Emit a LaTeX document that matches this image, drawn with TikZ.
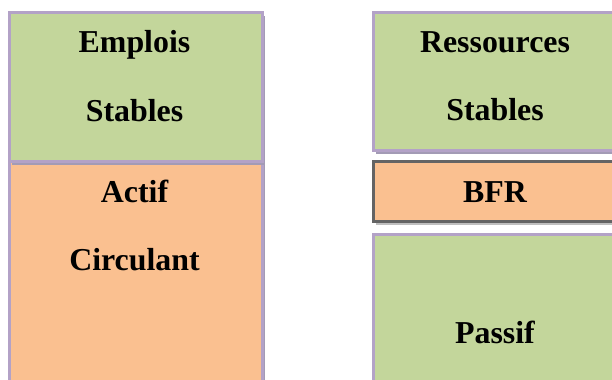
\documentclass[tikz,border=0pt]{standalone}
\usepackage{fontspec}
\setmainfont{Liberation Serif}
\usepackage{tikz}
\usetikzlibrary{positioning,shadows}
\definecolor{vert}{HTML}{C3D69B}
\definecolor{orange}{HTML}{FAC090}
\definecolor{lavande}{HTML}{B3A2C7}
\definecolor{ombre}{HTML}{A39BB5}
\definecolor{gris}{HTML}{646464}
\definecolor{grisclair}{HTML}{BFBFBF}
\tikzstyle{bloc}      = [rectangle, anchor=north west, line width=2.8bp, draw=lavande, inner sep=0pt]
\tikzstyle{vertbox}   = [bloc, fill=vert, drop shadow={shadow xshift=3bp, shadow yshift=-4bp, fill=ombre, opacity=1}]
\tikzstyle{orangebox} = [bloc, fill=orange, drop shadow={shadow xshift=3bp, shadow yshift=-4bp, fill=ombre, opacity=1}]
\tikzstyle{bfrbox}    = [bloc, fill=orange, draw=gris, drop shadow={shadow xshift=3bp, shadow yshift=-4bp, fill=grisclair, opacity=1}]
\tikzstyle{lbl}       = [anchor=base, inner sep=0pt, font=\fontsize{32}{38}\selectfont\bfseries]

\begin{document}
\begin{tikzpicture}[x=1bp,y=-1bp]
        \useasboundingbox (0,0) rectangle (612,379);
        \clip (0,0) rectangle (612,379);

        % colonne gauche
        \node[orangebox, minimum width=253bp, minimum height=240bp] (actif) at (8,160) {};
        \node[vertbox, minimum width=253bp, minimum height=149bp] (emplois) at (8,11) {};

        % colonne droite
        \node[vertbox, minimum width=248bp, minimum height=138bp] (ressources) at (372,11) {};
        \node[bfrbox, minimum width=248bp, minimum height=60bp] (bfr) at (372,160) {};
        \node[vertbox, minimum width=248bp, minimum height=170bp] (passif) at (372,233) {};

        \node[lbl] (emploisA) at (134.5,52) {Emplois};
        \node[lbl] (emploisB) at (134.5,121) {Stables};
        \node[lbl] (actifA) at (134.5,202) {Actif};
        \node[lbl] (actifB) at (134.5,270) {Circulant};

        \node[lbl] (ressourcesA) at (495,52) {Ressources};
        \node[lbl] (ressourcesB) at (495,120) {Stables};
        \node[lbl] (bfrA) at (495,202) {BFR};
        \node[lbl] (passifA) at (495,343) {Passif};
    \end{tikzpicture}
\end{document}
